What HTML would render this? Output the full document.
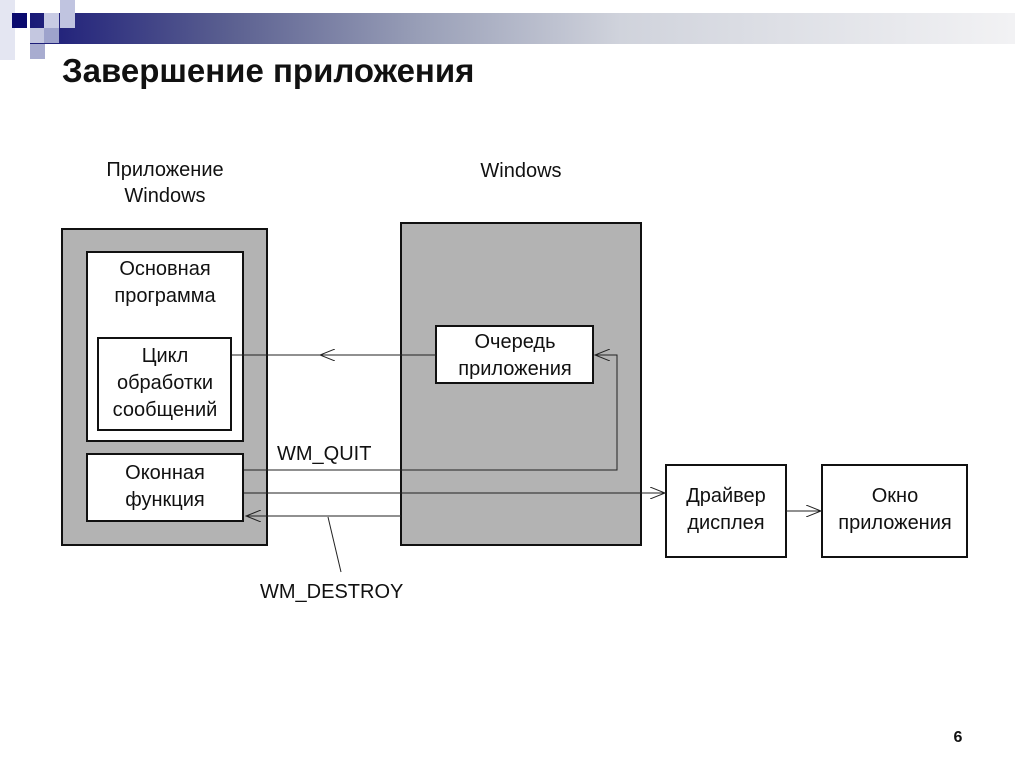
<!DOCTYPE html>
<html><head><meta charset="utf-8"><style>
body{margin:0;width:1024px;height:767px;background:#fff;overflow:hidden;position:relative;font-family:"Liberation Sans",sans-serif}
.bar{position:absolute;left:30px;top:13px;width:985px;height:31px;background:linear-gradient(90deg,#1a1a78 0%,#5a5f90 20%,#9aa0b8 40%,#d0d3dc 60%,#f2f2f4 100%)}
.sq{position:absolute;width:15px;height:15px}
svg text{font-family:"Liberation Sans",sans-serif;font-size:20px;fill:#111}
</style></head><body>
<div class="bar"></div>
<div class="sq" style="left:0;top:0;height:60px;background:#e4e6f2"></div>
<div class="sq" style="left:60px;top:0;height:28px;background:#c0c4e0"></div>
<div class="sq" style="left:44px;top:13px;background:#c8cbe4"></div>
<div class="sq" style="left:12px;top:13px;background:#0a0a6e"></div>
<div class="sq" style="left:30px;top:28px;background:#c4c7e0"></div>
<div class="sq" style="left:44px;top:28px;background:#9ea3cc"></div>
<div class="sq" style="left:30px;top:44px;background:#a8acd0"></div>
<div style="position:absolute;left:62px;top:52px;font-size:33px;font-weight:bold;color:#111">Завершение приложения</div>
<svg width="1024" height="767" style="position:absolute;left:0;top:0">
<defs><marker id="a" markerWidth="16" markerHeight="12" refX="15" refY="6" orient="auto" markerUnits="userSpaceOnUse"><path d="M0,0 L15,6 L0,12" fill="none" stroke="#222" stroke-width="1"/></marker></defs>
<text x="165" y="176" text-anchor="middle">Приложение</text>
<text x="165" y="202" text-anchor="middle">Windows</text>
<text x="521" y="177" text-anchor="middle">Windows</text>
<rect x="62" y="229" width="205" height="316" fill="#b3b3b3" stroke="#111" stroke-width="2"/>
<rect x="87" y="252" width="156" height="189" fill="#fff" stroke="#111" stroke-width="2"/>
<text x="165" y="275" text-anchor="middle">Основная</text>
<text x="165" y="302" text-anchor="middle">программа</text>
<rect x="98" y="338" width="133" height="92" fill="#fff" stroke="#111" stroke-width="2"/>
<text x="165" y="362" text-anchor="middle">Цикл</text>
<text x="165" y="389" text-anchor="middle">обработки</text>
<text x="165" y="416" text-anchor="middle">сообщений</text>
<rect x="87" y="454" width="156" height="67" fill="#fff" stroke="#111" stroke-width="2"/>
<text x="165" y="479" text-anchor="middle">Оконная</text>
<text x="165" y="506" text-anchor="middle">функция</text>
<rect x="401" y="223" width="240" height="322" fill="#b3b3b3" stroke="#111" stroke-width="2"/>
<rect x="436" y="326" width="157" height="57" fill="#fff" stroke="#111" stroke-width="2"/>
<text x="515" y="348" text-anchor="middle">Очередь</text>
<text x="515" y="375" text-anchor="middle">приложения</text>
<rect x="666" y="465" width="120" height="92" fill="#fff" stroke="#111" stroke-width="2"/>
<text x="726" y="502" text-anchor="middle">Драйвер</text>
<text x="726" y="529" text-anchor="middle">дисплея</text>
<rect x="822" y="465" width="145" height="92" fill="#fff" stroke="#111" stroke-width="2"/>
<text x="895" y="502" text-anchor="middle">Окно</text>
<text x="895" y="529" text-anchor="middle">приложения</text>
<g stroke="#222" stroke-width="1" fill="none">
<line x1="436" y1="355" x2="232" y2="355"/>
<line x1="436" y1="355" x2="320" y2="355" marker-end="url(#a)"/>
<polyline points="244,470 617,470 617,355 595,355" marker-end="url(#a)"/>
<line x1="244" y1="493" x2="665" y2="493" marker-end="url(#a)"/>
<line x1="401" y1="516" x2="246" y2="516" marker-end="url(#a)"/>
<line x1="786" y1="511" x2="821" y2="511" marker-end="url(#a)"/>
<line x1="328" y1="517" x2="341" y2="572"/>
</g>
<text x="277" y="460">WM_QUIT</text>
<text x="260" y="598">WM_DESTROY</text>
<text x="958" y="742" text-anchor="middle" style="font-size:16px;font-weight:bold">6</text>
</svg>
</body></html>
